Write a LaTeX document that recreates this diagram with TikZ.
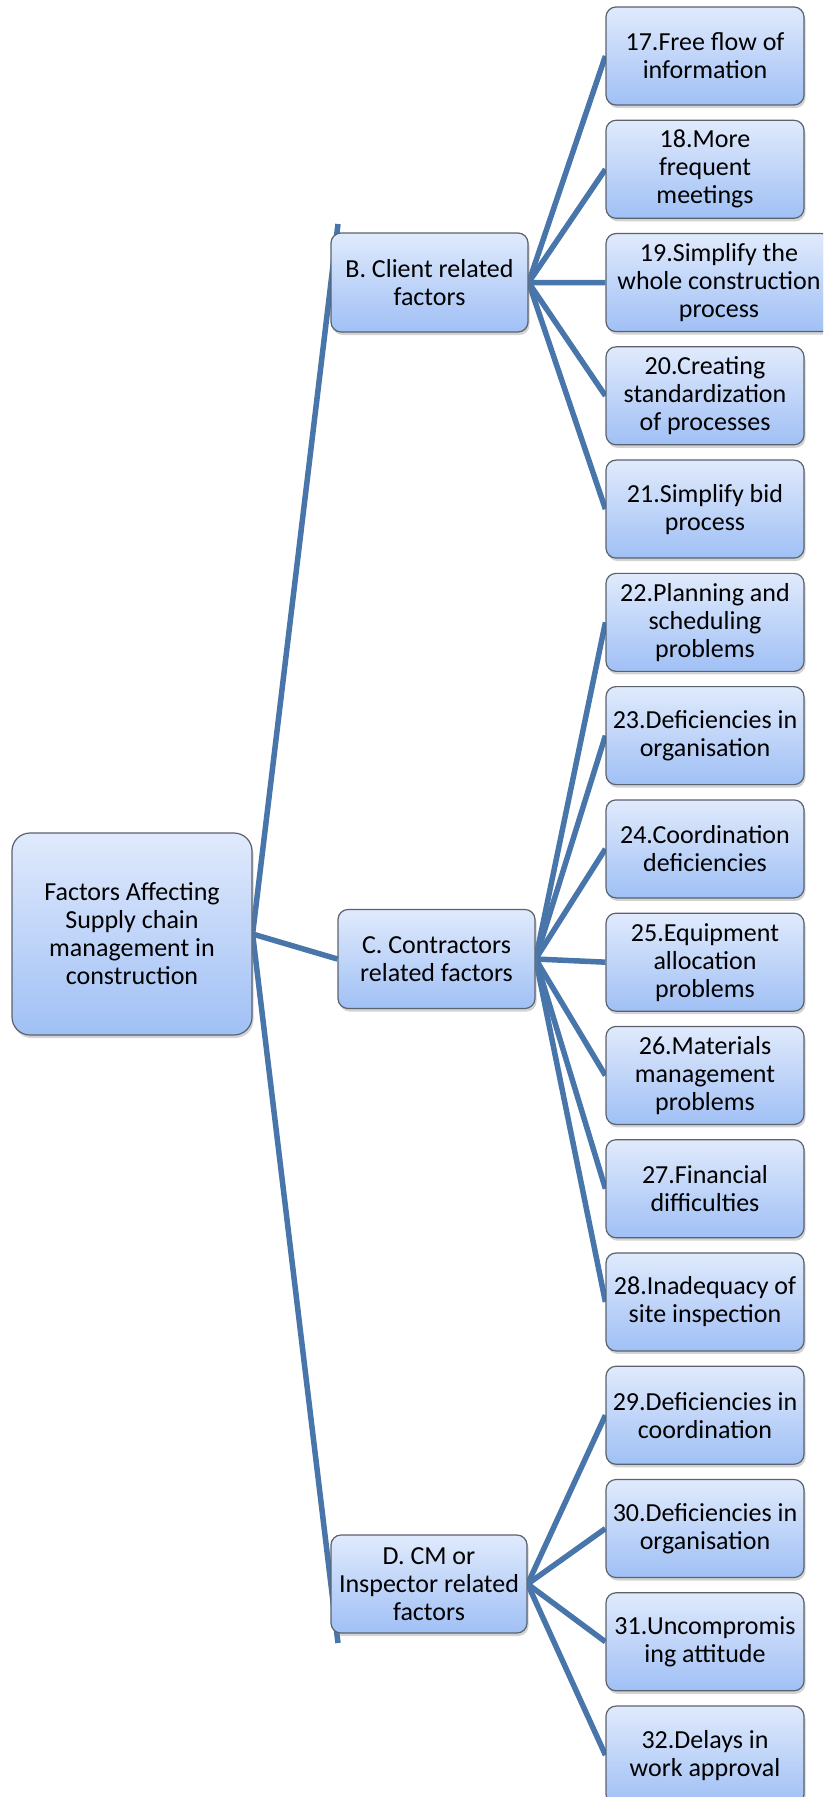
\documentclass[tikz,border=0pt]{standalone}
\usepackage{fontspec}
\setmainfont{Carlito}
\usetikzlibrary{positioning, shadows, backgrounds}

\definecolor{boxtop}{RGB}{224,234,252}
\definecolor{boxbottom}{RGB}{160,192,245}
\definecolor{boxline}{RGB}{90,98,110}
\definecolor{linkblue}{RGB}{72,117,170}

\tikzset{
  factor/.style={draw=boxline, line width=1.2pt, rounded corners=10pt,
    top color=boxtop, bottom color=boxbottom, align=center, inner sep=0pt,
    font=\fontsize{26}{28}\selectfont,
    drop shadow={shadow xshift=1.5pt, shadow yshift=-3pt, opacity=0.35, fill=black!50}},
  link/.style={draw=linkblue, line width=5.5pt}
}

\begin{document}
\begin{tikzpicture}[x=1pt, y=-1pt]

  % --- PAGE (one unit = one pixel of the original) ---
  \useasboundingbox (0,0) rectangle (823,1797);
  \clip (0,0) rectangle (823,1797);

  % --- POSITIONS ---
  \def\xLeaf{606}   % left edge of the right column
  \def\yFirst{56}   % centre of the first item
  \def\dy{113.27}   % spacing of the items

  % --- ROOT AND GROUPS ---
  \node[factor, rounded corners=18pt, minimum width=240, minimum height=202] (root) at (132,934)
    {Factors Affecting\\Supply chain\\management in\\construction};
  \node[factor, minimum width=197, minimum height=99] (B) at (429.5,282.5)
    {B. Client related\\factors};
  \node[factor, minimum width=197, minimum height=99] (C) at (436.5,959)
    {C. Contractors\\related factors};
  \node[factor, minimum width=196, minimum height=98] (D) at (429,1584)
    {D. CM or\\Inspector related\\factors};

  % ends of the trunk above B and below D
  \coordinate (trunkTop) at (338,224);
  \coordinate (trunkBot) at (338,1643);

  % --- ITEMS 17 TO 32 ---
  \foreach \n/\w/\txt in {
      17/198/{17.Free flow of\\information},
      18/198/{18.More\\frequent\\meetings},
      19/226/{19.Simplify the\\whole construction\\process},
      20/198/{20.Creating\\standardization\\of processes},
      21/198/{21.Simplify bid\\process},
      22/198/{22.Planning and\\scheduling\\problems},
      23/198/{23.Deficiencies in\\organisation},
      24/198/{24.Coordination\\deficiencies},
      25/198/{25.Equipment\\allocation\\problems},
      26/198/{26.Materials\\management\\problems},
      27/198/{27.Financial\\difficulties},
      28/198/{28.Inadequacy of\\site inspection},
      29/198/{29.Deficiencies in\\coordination},
      30/198/{30.Deficiencies in\\organisation},
      31/198/{31.Uncompromis\\ing attitude},
      32/198/{32.Delays in\\work approval}} {
    \node[factor, minimum width=\w, minimum height=98] (F\n)
      at ({\xLeaf+\w/2}, {\yFirst+(\n-17)*\dy}) {\txt};
  }

  % --- CONNECTORS (behind the boxes) ---
  \begin{scope}[on background layer]
    \draw[link] (trunkTop) -- (root.east) -- (trunkBot);
    \draw[link] (root.east) -- (C.west);
    \foreach \n in {17,...,21} \draw[link] (B.east) -- (F\n.west);
    \foreach \n in {22,...,28} \draw[link] (C.east) -- (F\n.west);
    \foreach \n in {29,...,32} \draw[link] (D.east) -- (F\n.west);
  \end{scope}

\end{tikzpicture}
\end{document}
